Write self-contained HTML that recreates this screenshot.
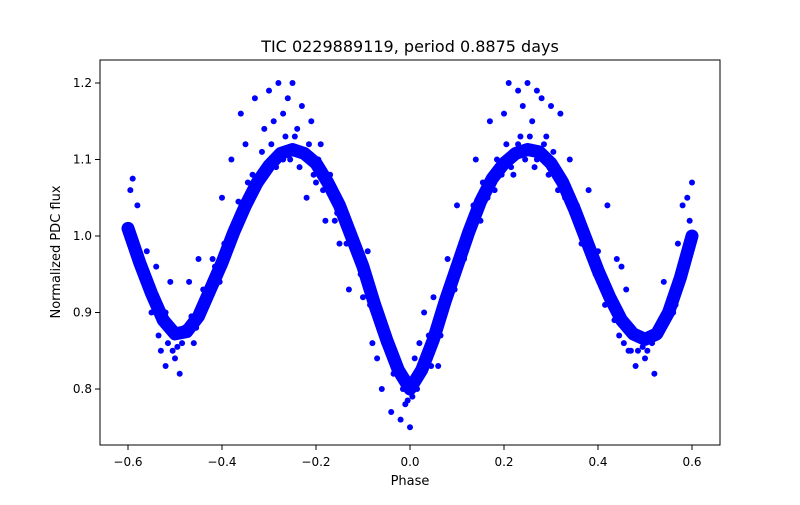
<!DOCTYPE html>
<html><head><meta charset="utf-8"><style>
body{margin:0;background:#fff;font-family:"Liberation Sans","DejaVu Sans",sans-serif}
svg text{font-family:"DejaVu Sans","Liberation Sans",sans-serif}
</style></head><body>
<svg id="chart" width="800" height="500" xmlns="http://www.w3.org/2000/svg">
<rect width="800" height="500" fill="#fff"/>
<text x="410" y="52" font-size="16" text-anchor="middle">TIC 0229889119, period 0.8875 days</text>
<text x="410" y="485" font-size="13" text-anchor="middle">Phase</text>
<text transform="translate(60,252) rotate(-90)" font-size="13" text-anchor="middle">Normalized PDC flux</text>
<g id="marks"></g>
<g id="axes"></g>
<rect x="100" y="60" width="620" height="385" fill="none" stroke="#000" stroke-width="1"/>
</svg>
<script>
const curvePhase=[-0.6,-0.575,-0.55,-0.525,-0.5,-0.475,-0.45,-0.425,-0.4,-0.375,-0.35,-0.325,-0.3,-0.275,-0.25,-0.225,-0.2,-0.175,-0.15,-0.125,-0.1,-0.075,-0.05,-0.025,0,0.025,0.05,0.075,0.1,0.125,0.15,0.175,0.2,0.225,0.25,0.275,0.3,0.325,0.35,0.375,0.4,0.425,0.45,0.475,0.5,0.525,0.55,0.575,0.6];
const curveFlux=[1.01,0.965,0.925,0.89,0.872,0.875,0.895,0.93,0.965,1.005,1.04,1.07,1.092,1.108,1.113,1.108,1.095,1.07,1.04,1.0,0.96,0.91,0.865,0.825,0.8,0.825,0.865,0.915,0.96,1.005,1.045,1.075,1.095,1.108,1.113,1.11,1.095,1.07,1.035,0.995,0.955,0.92,0.89,0.872,0.865,0.872,0.9,0.945,1.0];
const scatterPhase=[-0.595,-0.59,-0.58,-0.57,-0.56,-0.55,-0.54,-0.53,-0.52,-0.51,-0.5,-0.49,-0.48,-0.47,-0.46,-0.44,-0.42,-0.4,-0.38,-0.36,-0.35,-0.33,-0.32,-0.3,-0.29,-0.28,-0.27,-0.26,-0.25,-0.24,-0.23,-0.22,-0.21,-0.2,-0.19,-0.18,-0.17,-0.16,-0.15,-0.13,-0.12,-0.1,-0.09,-0.08,-0.07,-0.06,-0.04,-0.03,-0.02,-0.01,0.0,0.01,0.02,0.03,0.04,0.05,0.06,0.08,0.1,0.12,0.14,0.15,0.17,0.18,0.2,0.21,0.22,0.23,0.24,0.25,0.26,0.27,0.28,0.29,0.3,0.31,0.32,0.33,0.34,0.36,0.38,0.4,0.42,0.44,0.46,0.47,0.48,0.5,0.52,0.54,0.56,0.57,0.58,0.59,0.595,0.6,-0.31,-0.27,0.27,0.23,-0.45,0.45,-0.52,0.53];
const scatterFlux=[1.06,1.075,1.04,0.95,0.98,0.9,0.96,0.85,0.83,0.94,0.84,0.82,0.88,0.94,0.86,0.93,0.97,1.05,1.1,1.16,1.12,1.18,1.08,1.19,1.15,1.2,1.16,1.18,1.2,1.14,1.17,1.05,1.15,1.07,1.12,1.02,1.08,1.02,0.99,0.93,1.0,0.92,0.98,0.86,0.84,0.8,0.77,0.82,0.76,0.78,0.75,0.84,0.86,0.9,0.87,0.92,0.83,0.97,1.04,1.0,1.1,1.02,1.15,1.06,1.16,1.2,1.08,1.19,1.17,1.2,1.15,1.19,1.18,1.13,1.17,1.08,1.16,1.05,1.1,1.02,1.06,0.98,1.04,0.97,0.93,0.85,0.83,0.84,0.82,0.94,0.9,0.99,1.04,1.05,1.02,1.07,1.14,1.1,1.1,1.12,0.97,0.96,0.9,0.88];
const nearPhase=[-0.585,-0.565,-0.545,-0.535,-0.515,-0.505,-0.495,-0.485,-0.465,-0.455,-0.435,-0.415,-0.405,-0.395,-0.385,-0.365,-0.355,-0.345,-0.335,-0.315,-0.305,-0.295,-0.285,-0.265,-0.255,-0.245,-0.235,-0.215,-0.205,-0.195,-0.185,-0.165,-0.155,-0.145,-0.135,-0.115,-0.105,-0.095,-0.085,-0.065,-0.055,-0.045,-0.035,-0.015,-0.005,0.005,0.015,0.035,0.045,0.055,0.065,0.085,0.095,0.105,0.115,0.135,0.145,0.155,0.165,0.185,0.195,0.205,0.215,0.235,0.245,0.255,0.265,0.285,0.295,0.305,0.315,0.335,0.345,0.355,0.365,0.385,0.395,0.405,0.415,0.435,0.445,0.455,0.465,0.485,0.495,0.505,0.515,0.535,0.545,0.555,0.565,0.585,0.595];
const nearFlux=[0.97,0.94,0.91,0.87,0.86,0.85,0.855,0.86,0.895,0.88,0.92,0.96,0.94,0.99,1.0,1.045,1.03,1.07,1.08,1.11,1.08,1.12,1.09,1.13,1.1,1.13,1.09,1.12,1.08,1.1,1.06,1.06,1.03,1.03,0.99,0.99,0.95,0.95,0.91,0.9,0.86,0.85,0.82,0.8,0.785,0.79,0.8,0.84,0.83,0.88,0.87,0.93,0.93,0.98,0.97,1.04,1.02,1.07,1.05,1.1,1.08,1.12,1.09,1.13,1.1,1.13,1.09,1.12,1.08,1.11,1.06,1.06,1.03,1.04,0.99,0.99,0.95,0.95,0.91,0.89,0.87,0.86,0.85,0.85,0.855,0.85,0.86,0.88,0.89,0.92,0.91,0.97,0.98];
const xTicks=[-0.6,-0.4,-0.2,0.0,0.2,0.4,0.6];
const xTickLabels=["−0.6","−0.4","−0.2","0.0","0.2","0.4","0.6"];
const yTicks=[0.8,0.9,1.0,1.1,1.2];
const yTickLabels=["0.8","0.9","1.0","1.1","1.2"];
const NS="http://www.w3.org/2000/svg";
function xs(v){return 410+v*470;}
function ys(v){return 236-(v-1.0)*765;}
const marks=document.getElementById('marks'),axes=document.getElementById('axes');
function mk(t,a,p){const e=document.createElementNS(NS,t);for(const k in a)e.setAttribute(k,a[k]);p.appendChild(e);return e;}
const band=mk('polyline',{points:curvePhase.map((p,i)=>xs(p)+','+ys(curveFlux[i])).join(' '),fill:'none',stroke:'#0000ff','stroke-width':13,'stroke-linejoin':'round','stroke-linecap':'round'},marks);


curvePhase.forEach((p,i)=>{const c=mk('circle',{cx:xs(p),cy:ys(curveFlux[i]),r:3,fill:'#0000ff'},marks);

});
nearPhase.forEach((p,i)=>{const c=mk('circle',{cx:xs(p),cy:ys(nearFlux[i]),r:3,fill:'#0000ff'},marks);

});
scatterPhase.forEach((p,i)=>{const c=mk('circle',{cx:xs(p),cy:ys(scatterFlux[i]),r:3,fill:'#0000ff'},marks);

});
xTicks.forEach((v,i)=>{const x=xs(v);mk('line',{x1:x,x2:x,y1:445,y2:450,stroke:'#000'},axes);
const t=mk('text',{x:x,y:466,'font-size':12,'text-anchor':'middle'},axes);t.textContent=xTickLabels[i];

});
yTicks.forEach((v,i)=>{const y=ys(v);mk('line',{x1:95,x2:100,y1:y,y2:y,stroke:'#000'},axes);
const t=mk('text',{x:92,y:y+4,'font-size':12,'text-anchor':'end'},axes);t.textContent=yTickLabels[i];

});
</script>
</body></html>
